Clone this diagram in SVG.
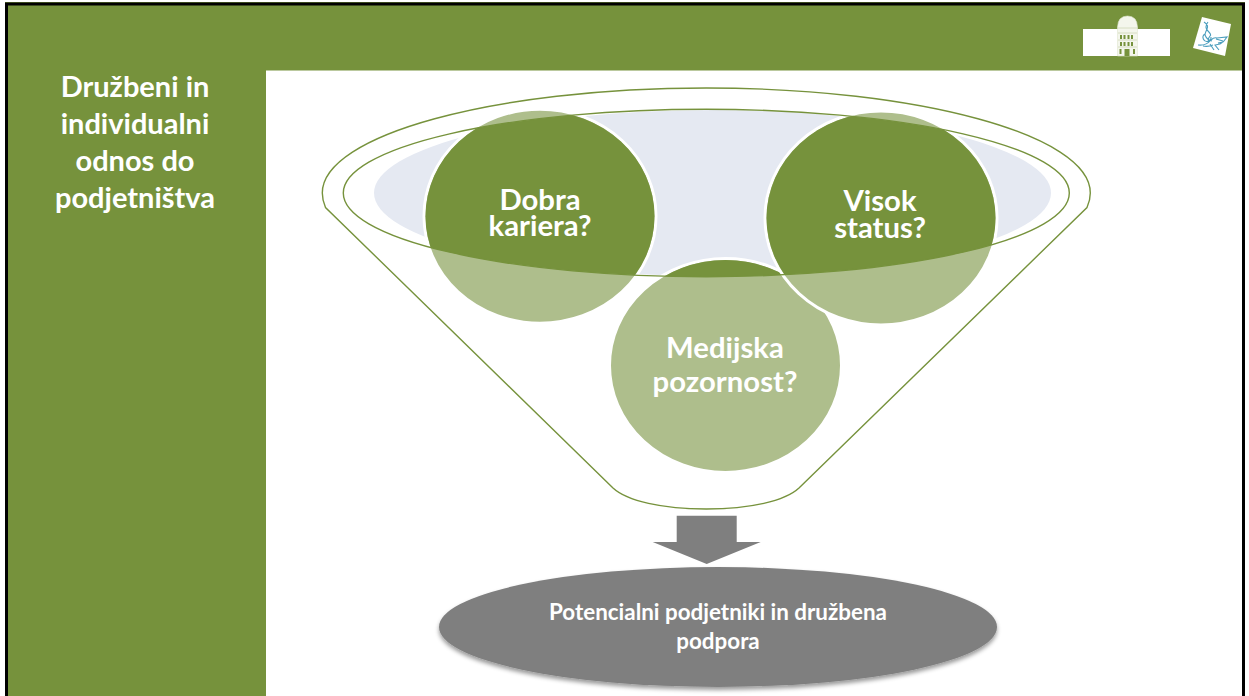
<svg xmlns="http://www.w3.org/2000/svg" width="1249" height="696" viewBox="0 0 1249 696">
<style>
text{font-family:"Lato","Carlito","Open Sans",sans-serif;font-weight:700;fill:#fff;text-anchor:middle}
.big{font-size:29px}
.mid{font-size:29.3px}
.small{font-size:22.4px}
.line{fill:none;stroke:#76923c;stroke-width:1.4}
.ring{fill:#aebe8c;stroke:#fff;stroke-width:3}
.dark{fill:#76923c}
.win{fill:#76923c}
.bird{fill:none;stroke:#4a9dbd;stroke-width:1.1}
</style>
<defs>
<clipPath id="innerClip"><ellipse cx="706.3" cy="193" rx="363" ry="83.7"/></clipPath>
<filter id="soft" x="-5%" y="-10%" width="110%" height="125%"><feDropShadow dx="0" dy="3" stdDeviation="2.2" flood-color="#000" flood-opacity="0.4"/></filter>
</defs>
<rect width="1249" height="696" fill="#fff"/>
<rect x="5" y="2" width="1240" height="694" fill="#76923c"/>
<path d="M6.500 696V4H1243.500V696" fill="none" stroke="#000" stroke-width="3"/>
<rect x="266" y="70.500" width="976" height="626" fill="#fff"/>
<g id="title"><text class="big" x="135" y="97">Družbeni in</text><text class="big" x="135" y="134">individualni</text><text class="big" x="135" y="171">odnos do</text><text class="big" x="135" y="208">podjetništva</text></g>
<g id="logo-building">
<rect x="1083" y="29" width="87" height="27" fill="#fff"/>
<path d="M1117.500 56V27Q1118 16 1127.500 16Q1137 16 1137.500 27V56Z" fill="#f4f6ec" stroke="#dfe6cf" stroke-width=".6"/>
<path d="M1118 28H1137M1118 33H1137M1118 40H1137M1118 47H1137" stroke="#cfd8b8" stroke-width=".8"/>
<g class="win">
<rect x="1120" y="35" width="2" height="4"/><rect x="1123.500" y="35" width="2" height="4"/><rect x="1127.500" y="35" width="2" height="4"/><rect x="1131" y="35" width="2" height="4"/>
<rect x="1120" y="42" width="2" height="4"/><rect x="1123.500" y="42" width="2" height="4"/><rect x="1127.500" y="42" width="2" height="4"/><rect x="1131" y="42" width="2" height="4"/>
<rect x="1119.500" y="49" width="2" height="5"/><rect x="1133" y="49" width="2" height="5"/><rect x="1124.500" y="49" width="5" height="7"/>
</g>
</g>
<g id="logo-bird">
<polygon points="1202,17 1231,24 1225,56 1193,48" fill="#fff"/>
<path class="bird" d="M1204 22q5 3 3 7t-2 6q2 5 7 6M1208 22q-4 5 0 9t2 5q-3 4-1 6M1205 34a4 4 0 1 0 6 3"/>
<path class="bird" d="M1198 45q8 1 13-5q3-3 6-2l10-1q-3 5-7 7l-5 1l4 5M1216 39l7 2M1218 43l5-1M1210 44l4 6M1203 46q5 1 10-1"/>
</g>
<g id="funnel">
<ellipse cx="712.500" cy="193" rx="338.500" ry="83" fill="#e5e9f2" clip-path="url(#innerClip)"/>
<path class="line" d="M325.500 207.500C323.500 203 322.300 198 322.300 193C322.300 135 494 88 706.300 88S1090.300 135 1090.300 193C1090.300 198 1089.100 203 1087 207.500L799 488C785 501 750 509 706.300 509S627 501 613 488Z"/>
</g>
<g id="node-dobra">
<ellipse class="ring" cx="540" cy="216.200" rx="116" ry="107"/>
<ellipse class="dark" cx="540" cy="216.200" rx="114.500" ry="105.500" clip-path="url(#innerClip)"/>
<text class="mid" x="540" y="209.500">Dobra<tspan x="540" dy="26.500">kariera?</tspan></text>
</g>
<g id="node-medijska">
<ellipse class="ring" cx="725.500" cy="365.500" rx="116" ry="107"/>
<ellipse class="dark" cx="725.500" cy="365.500" rx="114.500" ry="105.500" clip-path="url(#innerClip)"/>
<text class="mid" x="725" y="358">Medijska<tspan x="725" dy="34">pozornost?</tspan></text>
</g>
<g id="node-visok">
<ellipse class="ring" cx="881" cy="218" rx="116" ry="107"/>
<ellipse class="dark" cx="881" cy="218" rx="114.500" ry="105.500" clip-path="url(#innerClip)"/>
<text class="mid" x="880" y="211">Visok<tspan x="880" dy="27">status?</tspan></text>
</g>
<g id="connectors">
<ellipse class="line" cx="706.300" cy="193" rx="363" ry="83.700"/>
<polygon points="676.700,515.700 736.700,515.700 736.700,542 760.700,542 706.700,564 652.700,542 676.700,542" fill="#7f7f7f"/>
</g>
<g id="node-result">
<ellipse cx="718" cy="627" rx="279" ry="60" fill="#7f7f7f" filter="url(#soft)"/>
<text class="small" x="718" y="620">Potencialni podjetniki in družbena<tspan x="718" dy="29">podpora</tspan></text>
</g>
</svg>
